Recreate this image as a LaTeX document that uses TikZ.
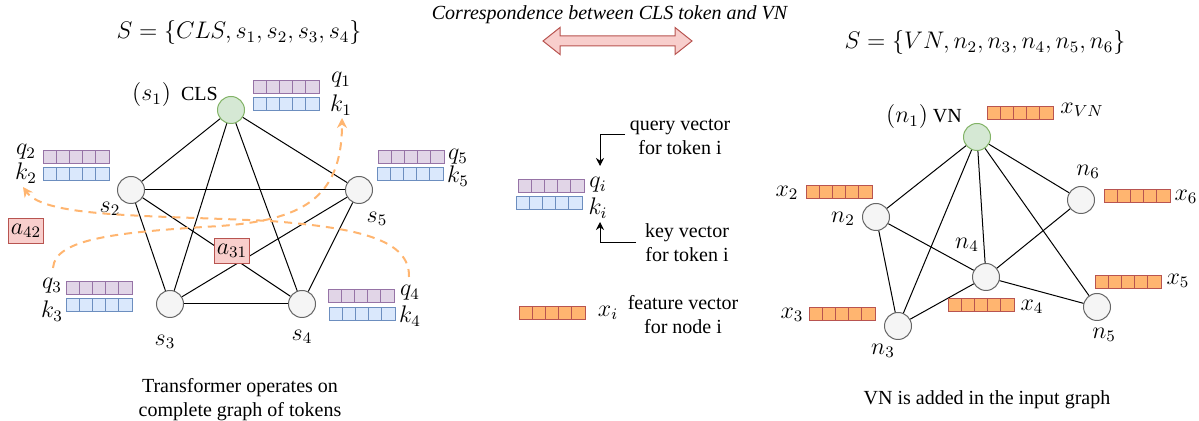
\documentclass[tikz,border=0pt]{standalone}
\usepackage{fontspec}
\setmainfont{Liberation Serif}
\usetikzlibrary{arrows.meta}

\definecolor{tokfill}{HTML}{F5F5F5}
\definecolor{tokdraw}{HTML}{666666}
\definecolor{clsfill}{HTML}{D5E8D4}
\definecolor{clsdraw}{HTML}{82B366}
\definecolor{qfill}{HTML}{E1D5E7}
\definecolor{qdraw}{HTML}{9673A6}
\definecolor{kfill}{HTML}{DAE8FC}
\definecolor{kdraw}{HTML}{6C8EBF}
\definecolor{xfill}{HTML}{FFB570}
\definecolor{redfill}{HTML}{F8CECC}
\definecolor{reddraw}{HTML}{B85450}
\definecolor{attn}{HTML}{FFB570}

\tikzset{
  tok/.style={circle,draw=tokdraw,fill=tokfill,line width=0.5pt,minimum size=13.5pt,inner sep=0pt},
  cls/.style={tok,draw=clsdraw,fill=clsfill},
  score/.style={draw=reddraw,fill=redfill,line width=0.5pt,minimum width=17.5pt,minimum height=12.5pt,inner sep=0pt,font=\large},
  lab/.style={font=\large,inner sep=0pt},
  txt/.style={align=center,inner sep=0pt},
  qcell/.style={draw=qdraw,fill=qfill,line width=0.5pt},
  kcell/.style={draw=kdraw,fill=kfill,line width=0.5pt},
  xcell/.style={draw=reddraw,fill=xfill,line width=0.5pt},
  attnline/.style={draw=attn,line width=1pt,dash pattern=on 4pt off 3pt,-{Stealth[length=5pt,width=5pt]}},
}

% row of 5 cells: left x, top y, style
\newcommand{\cellrow}[3]{%
  \foreach \c in {0,...,4}
    \draw[#3] ({#1+\c*13.2},#2) rectangle ++(13.2,13);
}

\begin{document}
\begin{tikzpicture}[x=0.5pt,y=-0.5pt]
\useasboundingbox (0,0) rectangle (1199,421);

%Titles
\node[lab] (setl) at (239,33) {$S=\{CLS,s_1,s_2,s_3,s_4\}$};
\node[lab] (setr) at (985,43) {$S=\{VN,n_2,n_3,n_4,n_5,n_6\}$};
\node[txt] (corr) at (610,15) {\textit{Correspondence between CLS token and VN}};

%Double arrow
\draw[draw=reddraw,fill=redfill,line width=0.5pt] (543,41) -- (560,27.5) -- (560,36) -- (675,36) -- (675,27.5) -- (692,41) -- (675,54.5) -- (675,46) -- (560,46) -- (560,54.5) -- cycle;

%Left graph: tokens
\node[cls] (s1) at (231,110) {};
\node[tok] (s2) at (131,190) {};
\node[tok] (s5) at (359,190) {};
\node[tok] (s3) at (170,304) {};
\node[tok] (s4) at (302,304) {};

\foreach \a/\b in {s1/s2,s1/s3,s1/s4,s1/s5,s2/s5,s2/s3,s2/s4,s3/s4,s3/s5,s4/s5}
  \draw[line width=0.5pt] (\a) -- (\b);

\node[txt] (s1lab) at (175,95) {{\large$(s_1)$}\ \ CLS};
\node[lab] (s2lab) at (110,209) {$s_2$};
\node[lab] (s5lab) at (377,219) {$s_5$};
\node[lab] (s3lab) at (165,342) {$s_3$};
\node[lab] (s4lab) at (302,337) {$s_4$};

%Query and key vectors
\cellrow{253}{81}{qcell}
\cellrow{253}{98}{kcell}
\node[lab] (q1) at (341,80) {$q_1$};
\node[lab] (k1) at (341,105) {$k_1$};

\cellrow{43}{151}{qcell}
\cellrow{43}{168}{kcell}
\node[lab] (q2) at (26,152) {$q_2$};
\node[lab] (k2) at (26,173) {$k_2$};

\cellrow{378}{151}{qcell}
\cellrow{377}{168}{kcell}
\node[lab] (q5) at (458,157) {$q_5$};
\node[lab] (k5) at (458,176) {$k_5$};

\cellrow{66}{282}{qcell}
\cellrow{66}{299}{kcell}
\node[lab] (q3) at (52,286) {$q_3$};
\node[lab] (k3) at (52,311) {$k_3$};

\cellrow{328}{290}{qcell}
\cellrow{329}{308}{kcell}
\node[lab] (q4) at (410,293) {$q_4$};
\node[lab] (k4) at (410,316) {$k_4$};

%Attention curves
\coordinate (c3) at (53,268);
\coordinate (c1) at (342,118);
\coordinate (c4) at (409,277);
\coordinate (c2) at (23,187);
\draw[attnline] (c3) .. controls (55,238) and (120,232) .. (220,226) .. controls (300,220) and (342,200) .. (c1);
\draw[attnline] (c4) .. controls (410,240) and (360,228) .. (270,221) .. controls (150,215) and (45,218) .. (c2);

\node[score] (a42) at (26,231) {$a_{42}$};
\node[score] (a31) at (232,251) {$a_{31}$};

\node[txt] (capl) at (240,400) {Transformer operates on\\complete graph of tokens};

%Legend
\cellrow{518}{180}{qcell}
\cellrow{516}{197}{kcell}
\node[lab] (qi) at (598,185) {$q_i$};
\node[lab] (ki) at (598,208) {$k_i$};
\node[txt] (qtext) at (680,137) {query vector\\for token i};
\node[txt] (ktext) at (687,243) {key vector\\for token i};
\coordinate (qa) at (625,135);
\coordinate (qb) at (600,166);
\coordinate (ka) at (636,243);
\coordinate (kb) at (600,222);
\draw[line width=0.5pt,-{Stealth[length=4pt,width=4pt]}] (qa) -| (qb);
\draw[line width=0.5pt,-{Stealth[length=4pt,width=4pt]}] (ka) -| (kb);

\cellrow{519}{307}{xcell}
\node[lab] (xi) at (608,313) {$x_i$};
\node[txt] (xtext) at (683,315) {feature vector\\for node i};

%Right graph: nodes
\node[cls] (n1) at (977,137) {};
\node[tok] (n2) at (876,217) {};
\node[tok] (n3) at (898,326) {};
\node[tok] (n4) at (986,277) {};
\node[tok] (n5) at (1097,307) {};
\node[tok] (n6) at (1081,200) {};

\foreach \a/\b in {n1/n2,n1/n3,n1/n4,n1/n5,n1/n6,n2/n3,n2/n4,n3/n4,n4/n5,n4/n6}
  \draw[line width=0.5pt] (\a) -- (\b);

\node[txt] (n1lab) at (924,117) {{\large$(n_1)$} VN};
\node[lab] (n2lab) at (843,219) {$n_2$};
\node[lab] (n3lab) at (883,351) {$n_3$};
\node[lab] (n4lab) at (967,245) {$n_4$};
\node[lab] (n5lab) at (1104,335) {$n_5$};
\node[lab] (n6lab) at (1088,172) {$n_6$};

%Feature vectors
\cellrow{987}{107}{xcell}
\node[lab] (xvn) at (1082,110) {$x_{VN}$};
\cellrow{806}{186}{xcell}
\node[lab] (x2) at (787,193) {$x_2$};
\cellrow{809}{308}{xcell}
\node[lab] (x3) at (792,315) {$x_3$};
\cellrow{948}{299}{xcell}
\node[lab] (x4) at (1032,307) {$x_4$};
\cellrow{1095}{276}{xcell}
\node[lab] (x5) at (1178,281) {$x_5$};
\cellrow{1104}{190}{xcell}
\node[lab] (x6) at (1186,197) {$x_6$};

\node[txt] (capr) at (987,400) {VN is added in the input graph};

\end{tikzpicture}
\end{document}
